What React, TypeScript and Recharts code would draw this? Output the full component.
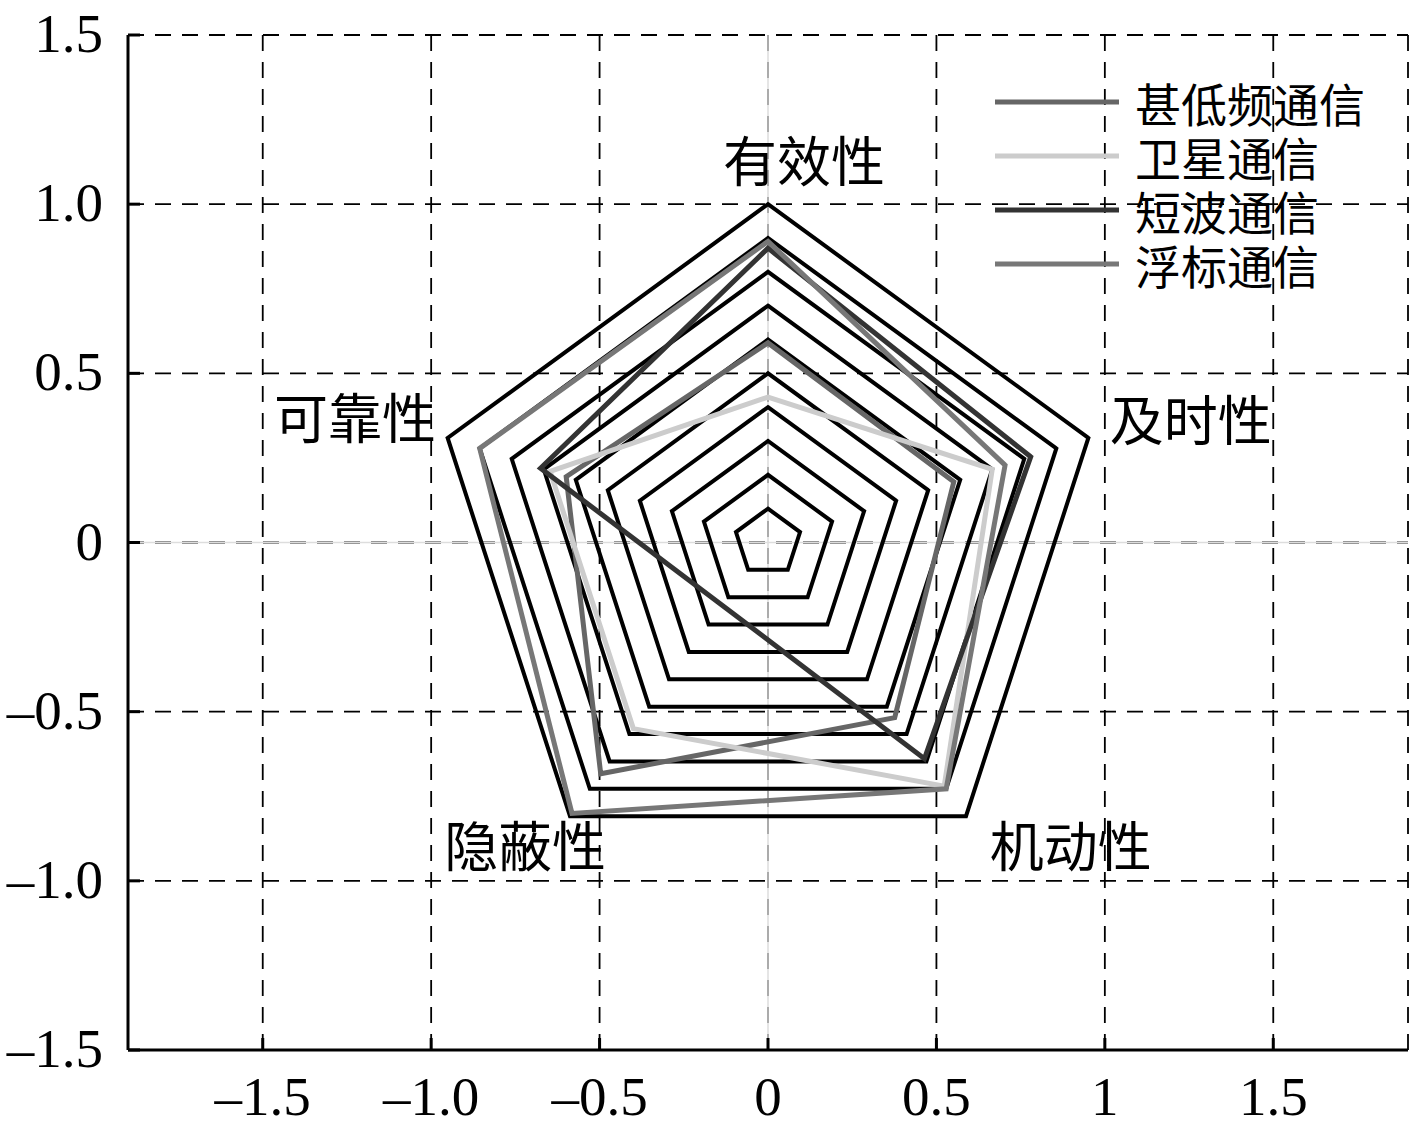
import { ScatterChart, Scatter, XAxis, YAxis, CartesianGrid, ReferenceLine, Legend } from 'recharts';

// radar axes, clockwise from the top
const axisNames = ['有效性', '及时性', '机动性', '隐蔽性', '可靠性'];
const seriesNames = ['甚低频通信', '卫星通信', '短波通信', '浮标通信'];
const seriesColors = ['#666666', '#cccccc', '#333333', '#777777'];

// values per axis, same order as axisNames
const vlfValues = [0.59, 0.58, 0.64, 0.845, 0.63];
const satelliteValues = [0.43, 0.7, 0.89, 0.68, 0.68];
const shortwaveValues = [0.87, 0.82, 0.79, 0.23, 0.71];
const buoyValues = [0.89, 0.74, 0.9, 0.99, 0.9];

const gridLevels = [0.1, 0.2, 0.3, 0.4, 0.5, 0.6, 0.7, 0.8, 0.9, 1.0];

const xTicks = [-1.5, -1, -0.5, 0, 0.5, 1, 1.5];
const xTickLabels = ['–1.5', '–1.0', '–0.5', '0', '0.5', '1', '1.5'];
const yTicks = [-1.5, -1, -0.5, 0, 0.5, 1, 1.5];
const yTickLabels = ['–1.5', '–1.0', '–0.5', '0', '0.5', '1.0', '1.5'];

// where the axis names sit (data units)
const LABEL_POS = [
  [0.107, 1.136],
  [1.255, 0.37],
  [0.899, -0.891],
  [-0.721, -0.891],
  [-1.226, 0.376],
];

const W = 1417;
const H = 1134;
const SERIF = "'Liberation Serif', 'Times New Roman', serif";
const CJK = "'Noto Sans CJK SC', sans-serif";

const angle = (i: number) => ((90 - 72 * i) * Math.PI) / 180;

// closed polygon; first two points repeated so the top corner gets a proper join
function toPolygon(values: number[]) {
  const pts = values.map((v, i) => ({ x: v * Math.cos(angle(i)), y: v * Math.sin(angle(i)) }));
  return [...pts, pts[0], pts[1]];
}

const seriesData = [vlfValues, satelliteValues, shortwaveValues, buoyValues].map(toPolygon);
const labelData = axisNames.map((name, i) => ({ x: LABEL_POS[i][0], y: LABEL_POS[i][1], name }));

const NoDot = () => <g />;

function BottomTick({ x, y, payload }: any) {
  const i = xTicks.indexOf(payload.value);
  return (
    <g>
      <line x1={x} y1={y} x2={x} y2={y - 12} stroke="#000" strokeWidth={3} />
      <text x={x} y={y + 65} textAnchor="middle" fontFamily={SERIF} fontSize={55} fill="#000">
        {xTickLabels[i]}
      </text>
    </g>
  );
}

function LeftTick({ x, y, payload }: any) {
  const i = yTicks.indexOf(payload.value);
  return (
    <g>
      <line x1={x} y1={y} x2={x + 12} y2={y} stroke="#000" strokeWidth={3} />
      <text x={x - 25} y={y + 17} textAnchor="end" fontFamily={SERIF} fontSize={55} fill="#000">
        {yTickLabels[i]}
      </text>
    </g>
  );
}

function TopTick({ x, y }: any) {
  return <line x1={x} y1={y} x2={x} y2={y + 12} stroke="#000" strokeWidth={3} />;
}

function RightTick({ x, y }: any) {
  return <line x1={x} y1={y} x2={x - 12} y2={y} stroke="#000" strokeWidth={3} />;
}

function AxisName(props: any) {
  return (
    <text
      x={props.cx}
      y={props.cy}
      textAnchor="middle"
      dominantBaseline="central"
      fontFamily={CJK}
      fontSize={54}
      fill="#000"
    >
      {props.payload.name}
    </text>
  );
}

function renderLegend() {
  return (
    <div style={{ fontFamily: CJK, fontSize: 46, color: '#000' }}>
      {seriesNames.map((name, i) => (
        <div key={name} style={{ display: 'flex', alignItems: 'center', height: 54 }}>
          <svg width={124} height={8}>
            <line x1={0} y1={4} x2={124} y2={4} stroke={seriesColors[i]} strokeWidth={5} />
          </svg>
          <span style={{ marginLeft: 16, lineHeight: 1, display: 'block' }}>{name}</span>
        </div>
      ))}
    </div>
  );
}

export default function App() {
  return (
    <div style={{ position: 'absolute', left: 0, top: 0, width: W, height: H, background: '#fff' }}>
      <ScatterChart width={W} height={H} margin={{ top: 35, right: 9, bottom: 0, left: 0 }}>
        <CartesianGrid stroke="#000" strokeWidth={1.8} strokeDasharray="16 11" />
        <ReferenceLine x={0} stroke="#dddddd" strokeWidth={1.5} />
        <ReferenceLine y={0} stroke="#dddddd" strokeWidth={1.5} />
        <XAxis
          type="number"
          dataKey="x"
          domain={[-1.9, 1.9]}
          ticks={xTicks}
          allowDataOverflow
          height={84}
          tickSize={0}
          tickMargin={0}
          tickLine={false}
          axisLine={{ stroke: '#000', strokeWidth: 3 }}
          tick={<BottomTick />}
        />
        <XAxis
          xAxisId="top"
          orientation="top"
          type="number"
          domain={[-1.9, 1.9]}
          ticks={xTicks}
          allowDataOverflow
          height={0}
          tickSize={0}
          tickMargin={0}
          tickLine={false}
          axisLine={{ stroke: '#000', strokeWidth: 3 }}
          tick={<TopTick />}
        />
        <YAxis
          type="number"
          dataKey="y"
          domain={[-1.5, 1.5]}
          ticks={yTicks}
          allowDataOverflow
          width={128}
          tickSize={0}
          tickMargin={0}
          tickLine={false}
          axisLine={{ stroke: '#000', strokeWidth: 3 }}
          tick={<LeftTick />}
        />
        <YAxis
          yAxisId="right"
          orientation="right"
          type="number"
          domain={[-1.5, 1.5]}
          ticks={yTicks}
          allowDataOverflow
          width={0}
          tickSize={0}
          tickMargin={0}
          tickLine={false}
          axisLine={{ stroke: '#000', strokeWidth: 3 }}
          tick={<RightTick />}
        />
        {gridLevels.map((lv) => (
          <Scatter
            key={`ring-${lv}`}
            data={toPolygon(axisNames.map(() => lv))}
            fill="#000"
            line={{ stroke: '#000', strokeWidth: 4 }}
            shape={NoDot}
            legendType="none"
            isAnimationActive={false}
          />
        ))}
        {seriesNames.map((name, i) => (
          <Scatter
            key={name}
            name={name}
            data={seriesData[i]}
            fill={seriesColors[i]}
            line={{ stroke: seriesColors[i], strokeWidth: 5 }}
            shape={NoDot}
            isAnimationActive={false}
          />
        ))}
        <Scatter data={labelData} shape={AxisName} legendType="none" isAnimationActive={false} />
        <Legend
          layout="vertical"
          align="center"
          verticalAlign="middle"
          content={renderLegend}
          wrapperStyle={{ left: 995, top: 75, width: 400 }}
        />
      </ScatterChart>
    </div>
  );
}
